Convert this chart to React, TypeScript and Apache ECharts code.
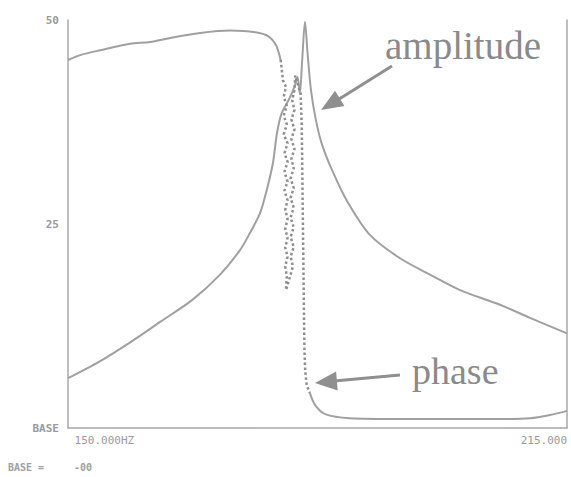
import React, { useEffect, useRef } from "react";
import * as echarts from "echarts";

// Frequency axis (Hz) and vertical scale
const xTickLabels = ["150.000HZ", "215.000"];
const yTickLabels = ["BASE", "25", "50"];
const footerLabel = "BASE =";
const footerValue = "-00";

// amplitude response [freq, level]
const amplitude: [number, number][] = [
  [150, 6.1], [154.2, 8.2], [158.1, 10.5], [162, 13.0], [166.2, 15.7], [169.8, 18.8],
  [172.4, 21.8], [173.7, 23.9], [175.0, 26.3], [175.9, 29.2], [176.7, 32.5], [177.2, 36.0],
  [177.8, 38.5], [178.8, 40.3], [179.5, 41.8], [179.9, 43.0], [180.2, 41.0], [180.5, 45.0],
  [180.87, 49.8], [181.2, 46.0], [181.65, 41.4], [182.3, 37.7], [183.1, 34.7], [184.4, 31.6],
  [186.3, 27.9], [189.3, 23.7], [193.25, 20.8], [197.15, 18.8], [201.06, 16.9],
  [206.27, 15.1], [210.18, 13.5], [215, 11.6],
];

// phase response, left smooth part
const phaseLeft: [number, number][] = [
  [150, 45.1], [151.6, 45.7], [154.2, 46.3], [158.1, 47.1], [160.7, 47.3], [163.3, 47.8],
  [167.2, 48.4], [171.1, 48.7], [174.4, 48.5], [176.1, 48.0], [177.1, 46.9], [177.7, 45.1],
];

// phase response through resonance (oscillating, plotted dotted)
const phaseResonance: [number, number][] = [
  [177.7, 45.1], [178.0, 42.6], [178.4, 41.8], [178.1, 40.6], [178.5, 39.5], [178.1, 38.3],
  [178.5, 37.2], [178.1, 36.0], [178.6, 34.9], [178.2, 33.7], [178.6, 32.6], [178.2, 31.4],
  [178.6, 30.2], [178.2, 29.1], [178.6, 27.9], [178.3, 26.8], [178.6, 25.6], [178.3, 24.4],
  [178.6, 23.3], [178.3, 22.1], [178.6, 21.0], [178.3, 19.8], [178.5, 18.6], [178.4, 16.9],
  [178.9, 18.5], [179.3, 19.8], [179.0, 21.0], [179.4, 22.2], [179.0, 23.4], [179.4, 24.6],
  [179.0, 25.8], [179.4, 27.0], [179.0, 28.2], [179.4, 29.4], [179.0, 30.6], [179.4, 31.8],
  [179.1, 33.0], [179.5, 34.2], [179.1, 35.4], [179.5, 36.6], [179.1, 37.8], [179.5, 39.0],
  [179.2, 40.2], [179.5, 41.4], [179.6, 43.2],
  [180.3, 41.0], [180.45, 37.0], [180.5, 33.0], [180.55, 29.0], [180.6, 25.0], [180.65, 21.0],
  [180.7, 17.0], [180.75, 13.0], [180.8, 9.5], [180.9, 7.0], [181.1, 5.2], [181.5, 4.3],
];

// phase response, right smooth part
const phaseRight: [number, number][] = [
  [181.5, 4.3], [182.2, 2.8], [183.5, 1.7], [186.7, 1.2], [193.2, 1.1], [199.8, 1.1],
  [206.3, 1.1], [210.2, 1.2], [212.8, 1.6], [215, 2.1],
];

const LINE = "#a0a0a0";
const DOTS = "#8e8e8e";
const AXIS = "#a8a8a8";
const TEXT = "#8a8a8a";
const SMALL = "#9a9a9a";
const mono = "'DejaVu Sans Mono', monospace";

export default function App() {
  const ref = useRef<HTMLDivElement>(null);
  useEffect(() => {
    if (!ref.current) return;
    const chart = echarts.init(ref.current, undefined, { renderer: "svg" });
    const lineSeries = (name: string, data: [number, number][], dotted = false) => ({
      name,
      type: "line",
      data,
      showSymbol: false,
      symbol: "none",
      smooth: dotted ? false : 0.3,
      lineStyle: dotted
        ? { color: DOTS, width: 2.5, type: "dotted" }
        : { color: LINE, width: 2, type: "solid" },
      z: 3,
    });
    chart.setOption({
      animation: false,
      backgroundColor: "#ffffff",
      grid: { left: 68, right: 4, top: 20, bottom: 49, containLabel: false },
      xAxis: {
        type: "value",
        min: 150,
        max: 215,
        interval: 65,
        axisLine: { show: true, onZero: false, lineStyle: { color: AXIS, width: 1.5 } },
        axisTick: { show: false },
        splitLine: { show: false },
        axisLabel: {
          color: SMALL,
          fontFamily: mono,
          fontSize: 11,
          margin: 7,
          showMinLabel: true,
          showMaxLabel: true,
          alignMinLabel: "left",
          alignMaxLabel: "right",
          formatter: (v: number) => (v === 150 ? " " + xTickLabels[0] : xTickLabels[1]),
        },
      },
      yAxis: [
        {
          type: "value",
          min: 0,
          max: 50,
          interval: 25,
          position: "left",
          axisLine: { show: true, lineStyle: { color: AXIS, width: 1.5 } },
          axisTick: { show: false },
          splitLine: { show: false },
          axisLabel: {
            color: SMALL,
            fontFamily: mono,
            fontSize: 11,
            fontWeight: "bold",
            margin: 9,
            formatter: (v: number) => (v === 0 ? yTickLabels[0] : v === 25 ? yTickLabels[1] : yTickLabels[2]),
          },
        },
        {
          type: "value",
          min: 0,
          max: 50,
          interval: 25,
          position: "right",
          axisLine: { show: true, lineStyle: { color: AXIS, width: 1.5 } },
          axisTick: { show: false },
          splitLine: { show: false },
          axisLabel: { show: false },
        },
      ],
      series: [
        lineSeries("amplitude", amplitude),
        lineSeries("phase", phaseLeft),
        lineSeries("phase-resonance", phaseResonance, true),
        lineSeries("phase-right", phaseRight),
      ],
      graphic: [
        {
          type: "text",
          left: 385,
          top: 26,
          style: { text: "amplitude", font: "39px 'Liberation Serif', serif", fill: TEXT },
        },
        {
          type: "text",
          left: 412,
          top: 352,
          style: { text: "phase", font: "38px 'Liberation Serif', serif", fill: TEXT },
        },
        {
          type: "line",
          shape: { x1: 392, y1: 66, x2: 336, y2: 101 },
          style: { stroke: "#8f8f8f", lineWidth: 3 },
        },
        {
          type: "polygon",
          shape: { points: [[321, 110], [344.4, 106], [335, 90.7]] },
          style: { fill: "#8f8f8f" },
        },
        {
          type: "line",
          shape: { x1: 400, y1: 375, x2: 334, y2: 381 },
          style: { stroke: "#8f8f8f", lineWidth: 3 },
        },
        {
          type: "polygon",
          shape: { points: [[315, 383], [337.7, 390.5], [336.1, 371.5]] },
          style: { fill: "#8f8f8f" },
        },
        {
          type: "text",
          left: 8,
          top: 462,
          style: { text: footerLabel, font: "bold 10px 'DejaVu Sans Mono', monospace", fill: "#a0a0a0" },
        },
        {
          type: "text",
          left: 74,
          top: 462,
          style: { text: footerValue, font: "bold 10px 'DejaVu Sans Mono', monospace", fill: "#a0a0a0" },
        },
      ],
    });
    return () => chart.dispose();
  }, []);
  return (
    <div
      ref={ref}
      style={{ position: "absolute", left: 0, top: 0, width: 571, height: 477, background: "#fff" }}
    />
  );
}
